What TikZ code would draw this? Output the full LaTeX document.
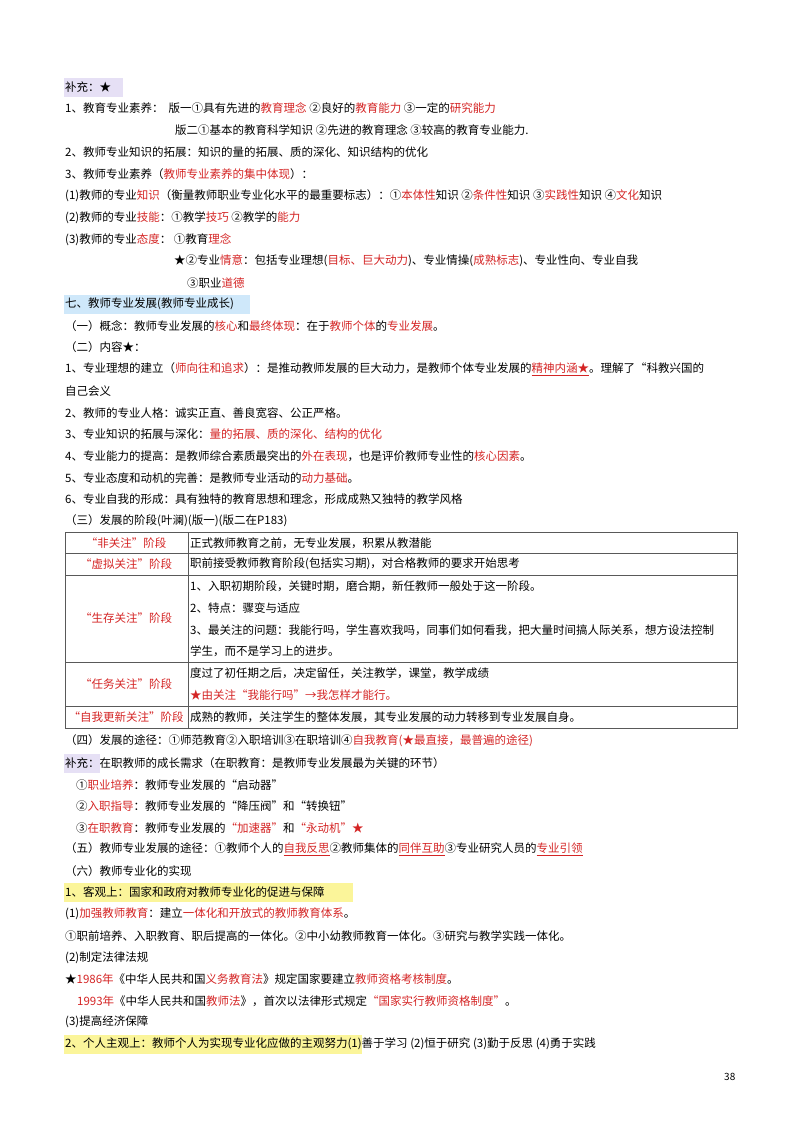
\documentclass[tikz,border=0pt]{standalone}
\usepackage{fontspec}
\usepackage{xcolor}
\setmainfont{Noto Sans CJK SC}
\definecolor{color_red}{HTML}{D42424}
\definecolor{color_note}{HTML}{E6E0F5}
\definecolor{color_head}{HTML}{CFE8FA}
\definecolor{color_mark}{HTML}{FBF59A}
\newcommand{\R}[1]{\textcolor{color_red}{#1}}
\newcommand{\RU}[1]{\textcolor{color_red}{\underline{#1}}}
\tikzset{
  txt/.style={anchor=west,inner sep=0pt,font=\fontsize{11.5}{14}\selectfont},
  cell/.style={txt,anchor=center}
}
\begin{document}
\begin{tikzpicture}[x=1pt,y=-1pt]
				\useasboundingbox (0,0) rectangle (800,1130);
				% Highlights
				\fill[color_note] (64,78) rectangle (123,97);
				\fill[color_head] (64,295) rectangle (250,314);
				\fill[color_note] (64,754) rectangle (100,773);
				\fill[color_mark] (64,883) rectangle (353,902);
				\fill[color_mark] (64,1035) rectangle (362,1054);
				% Supplement
				\node[txt] (s0) at (65,87) {补充：★};
				\node[txt] (s1) at (65,108) {1、教育专业素养：\ \ 版一①具有先进的\R{教育理念} ②良好的\R{教育能力} ③一定的\R{研究能力}};
				\node[txt] (s1b) at (175,130) {版二①基本的教育科学知识 ②先进的教育理念 ③较高的教育专业能力.};
				\node[txt] (s2) at (65,152) {2、教师专业知识的拓展：知识的量的拓展、质的深化、知识结构的优化};
				\node[txt] (s3) at (65,174) {3、教师专业素养（\R{教师专业素养的集中体现}）：};
				\node[txt] (s3a) at (65,196) {(1)教师的专业\R{知识}（衡量教师职业专业化水平的最重要标志）：①\R{本体性}知识 ②\R{条件性}知识 ③\R{实践性}知识 ④\R{文化}知识};
				\node[txt] (s3b) at (65,218) {(2)教师的专业\R{技能}：①教学\R{技巧} ②教学的\R{能力}};
				\node[txt] (s3c) at (65,240) {(3)教师的专业\R{态度}：\ ①教育\R{理念}};
				\node[txt] (s3d) at (174,261) {★②专业\R{情意}：包括专业理想(\R{目标、巨大动力})、专业情操(\R{成熟标志})、专业性向、专业自我};
				\node[txt] (s3e) at (187,283) {③职业\R{道德}};
				% Section seven
				\node[txt] (h7) at (65,304) {七、教师专业发展(教师专业成长)};
				\node[txt] (c1) at (65,326) {（一）概念：教师专业发展的\R{核心}和\R{最终体现}：在于\R{教师个体}的\R{专业发展}。};
				\node[txt] (c2) at (65,347) {（二）内容★：};
				\node[txt] (n1) at (65,369) {1、专业理想的建立（\R{师向往和追求}）：是推动教师发展的巨大动力，是教师个体专业发展的\RU{精神内涵★}。理解了“科教兴国的};
				\node[txt] (n1b) at (65,391) {自己会义};
				\node[txt] (n2) at (65,413) {2、教师的专业人格：诚实正直、善良宽容、公正严格。};
				\node[txt] (n3) at (65,434) {3、专业知识的拓展与深化：\R{量的拓展、质的深化、结构的优化}};
				\node[txt] (n4) at (65,456) {4、专业能力的提高：是教师综合素质最突出的\R{外在表现}，也是评价教师专业性的\R{核心因素}。};
				\node[txt] (n5) at (65,478) {5、专业态度和动机的完善：是教师专业活动的\R{动力基础}。};
				\node[txt] (n6) at (65,499) {6、专业自我的形成：具有独特的教育思想和理念，形成成熟又独特的教学风格};
				\node[txt] (c3) at (65,521) {（三）发展的阶段(叶澜)(版一)(版二在P183)};
				% Table
				\draw[gray!70!black,line width=0.6pt] (65,532) rectangle (737,728);
				\foreach \yy in {553,575,662,706}
					\draw[gray!70!black,line width=0.6pt] (65,\yy) -- (737,\yy);
				\draw[gray!70!black,line width=0.6pt] (188,532) -- (188,728);
				\node[cell] (k1) at (126,543) {\R{“非关注”阶段}};
				\node[cell] (k2) at (126,564) {\R{“虚拟关注”阶段}};
				\node[cell] (k3) at (126,618) {\R{“生存关注”阶段}};
				\node[cell] (k4) at (126,684) {\R{“任务关注”阶段}};
				\node[cell] (k5) at (126,717) {\R{“自我更新关注”阶段}};
				\node[txt] (v1) at (190,543) {正式教师教育之前，无专业发展，积累从教潜能};
				\node[txt] (v2) at (190,564) {职前接受教师教育阶段(包括实习期)，对合格教师的要求开始思考};
				\node[txt] (v3a) at (190,586) {1、入职初期阶段，关键时期，磨合期，新任教师一般处于这一阶段。};
				\node[txt] (v3b) at (190,608) {2、特点：骤变与适应};
				\node[txt] (v3c) at (190,630) {3、最关注的问题：我能行吗，学生喜欢我吗，同事们如何看我，把大量时间搞人际关系，想方设法控制};
				\node[txt] (v3d) at (190,651) {学生，而不是学习上的进步。};
				\node[txt] (v4a) at (190,673) {度过了初任期之后，决定留任，关注教学，课堂，教学成绩};
				\node[txt] (v4b) at (190,695) {\R{★由关注“我能行吗”→我怎样才能行。}};
				\node[txt] (v5) at (190,717) {成熟的教师，关注学生的整体发展，其专业发展的动力转移到专业发展自身。};
				% Paths
				\node[txt] (c4) at (65,741) {（四）发展的途径：①师范教育②入职培训③在职培训④\R{自我教育(★最直接，最普遍的途径)}};
				\node[txt] (p0) at (65,763) {补充：在职教师的成长需求（在职教育：是教师专业发展最为关键的环节）};
				\node[txt] (p1) at (76,785) {①\R{职业培养}：教师专业发展的“启动器”};
				\node[txt] (p2) at (76,806) {②\R{入职指导}：教师专业发展的“降压阀”和“转换钮”};
				\node[txt] (p3) at (76,828) {③\R{在职教育}：教师专业发展的\R{“加速器”}和\R{“永动机”★}};
				\node[txt] (c5) at (65,849) {（五）教师专业发展的途径：①教师个人的\RU{自我反思}②教师集体的\RU{同伴互助}③专业研究人员的\RU{专业引领}};
				\node[txt] (c6) at (65,871) {（六）教师专业化的实现};
				\node[txt] (o1) at (65,892) {1、客观上：国家和政府对教师专业化的促进与保障};
				\node[txt] (o1a) at (65,914) {(1)\R{加强教师教育}：建立\R{一体化和开放式的教师教育体系}。};
				\node[txt] (o1b) at (65,936) {①职前培养、入职教育、职后提高的一体化。②中小幼教师教育一体化。③研究与教学实践一体化。};
				\node[txt] (o2) at (65,958) {(2)制定法律法规};
				\node[txt] (o2a) at (65,979) {★\R{1986年}《中华人民共和国\R{义务教育法}》规定国家要建立\R{教师资格考核制度}。};
				\node[txt] (o2b) at (77,1001) {\R{1993年}《中华人民共和国\R{教师法}》，首次以法律形式规定\R{“国家实行教师资格制度”}。};
				\node[txt] (o3) at (65,1022) {(3)提高经济保障};
				\node[txt] (o4) at (65,1044) {2、个人主观上：教师个人为实现专业化应做的主观努力(1)善于学习 (2)恒于研究 (3)勤于反思 (4)勇于实践};
				\node[txt,font=\fontsize{10}{12}\selectfont] (pg) at (724,1077) {38};
			\end{tikzpicture}
\end{document}
